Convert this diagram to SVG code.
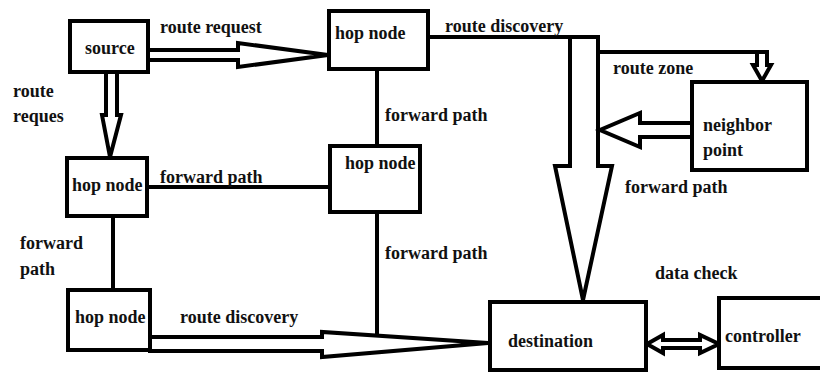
<svg xmlns="http://www.w3.org/2000/svg" width="820" height="372" viewBox="0 0 820 372">
<style>
.box{fill:#fff;stroke:#000;stroke-width:4}
.ln{fill:none;stroke:#000;stroke-width:4}
.ar{fill:#fff;stroke:#000;stroke-width:4;stroke-linejoin:miter}
text{font-family:"Liberation Serif","Times New Roman",serif;font-weight:bold;font-size:18px;fill:#111}
</style>
<rect width="820" height="372" fill="#fff"/>
<g id="connectors">
<line class="ln" x1="377" y1="69" x2="377" y2="146"/>
<line class="ln" x1="377" y1="212" x2="377" y2="337"/>
<line class="ln" x1="147" y1="187" x2="330" y2="187"/>
<line class="ln" x1="113" y1="216" x2="113" y2="290"/>
<line class="ln" x1="428" y1="37" x2="598" y2="37"/>
<line class="ln" x1="598" y1="52" x2="767" y2="52"/>
<polygon class="ar" points="148,50 238,50 238,43 328,55 238,67 238,60 148,60"/>
<polygon class="ar" points="106,72 117,72 117,115 121,115 110,157 102,115 106,115"/>
<polygon class="ar" points="150,337 322,337 322,332 488,343 322,357 322,351 150,351"/>
<polygon class="ar" points="570,37 598,37 598,166 612,166 583,300 555,166 570,166"/>
<polygon class="ar" points="757,52 767,52 767,65 771,65 762,81 753,65 757,65"/>
<polygon class="ar" points="692,123 640,123 640,113 600,130 640,147 640,137 692,137"/>
<polygon class="ar" points="647,344 663,335 663,340 700,340 700,335 719,344 700,353 700,348 663,348 663,353"/>
<text x="160" y="33">route request</text>
<text x="13" y="97">route</text>
<text x="13" y="122">reques</text>
<text x="445" y="32">route discovery</text>
<text x="385" y="121">forward path</text>
<text x="613" y="74">route zone</text>
<text x="160" y="183">forward path</text>
<text x="625" y="193">forward path</text>
<text x="20" y="249">forward</text>
<text x="20" y="275">path</text>
<text x="385" y="259">forward path</text>
<text x="180" y="323">route discovery</text>
<text x="655" y="279">data check</text>
</g>
<g id="source"><rect class="box" x="70" y="21" width="78" height="51"/><text x="85" y="54">source</text></g>
<g id="hop1"><rect class="box" x="329" y="11" width="99" height="58"/><text x="335" y="39">hop node</text></g>
<g id="hop2"><rect class="box" x="67" y="158" width="80" height="58"/><text x="72" y="191">hop node</text></g>
<g id="hop3"><rect class="box" x="330" y="146" width="90" height="66"/><text x="345" y="169">hop node</text></g>
<g id="hop4"><rect class="box" x="68" y="290" width="82" height="60"/><text x="75" y="323">hop node</text></g>
<g id="neighbor"><rect class="box" x="692" y="82" width="115" height="88"/><text x="703" y="131">neighbor</text><text x="703" y="156">point</text></g>
<g id="destination"><rect class="box" x="490" y="302" width="156" height="68"/><text x="508" y="347">destination</text></g>
<g id="controller"><rect class="box" x="719" y="298" width="110" height="70"/><text x="725" y="342">controller</text></g>
</svg>
